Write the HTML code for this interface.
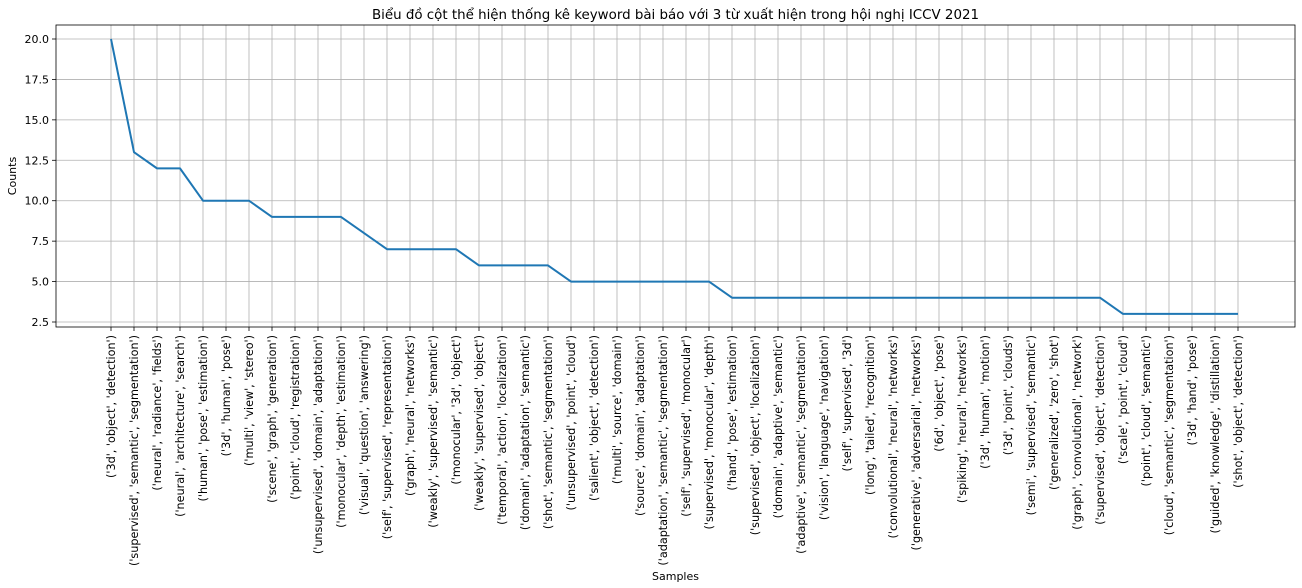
<!DOCTYPE html>
<html><head><meta charset="utf-8"><style>body{margin:0;background:#fff}svg{display:block;font-family:"DejaVu Sans","Liberation Sans",sans-serif}</style></head>
<body>
<svg id="chart" width="1302" height="588" viewBox="0 0 1302 588"></svg>
<script>
const categories=["('3d', 'object', 'detection')","('supervised', 'semantic', 'segmentation')","('neural', 'radiance', 'fields')","('neural', 'architecture', 'search')","('human', 'pose', 'estimation')","('3d', 'human', 'pose')","('multi', 'view', 'stereo')","('scene', 'graph', 'generation')","('point', 'cloud', 'registration')","('unsupervised', 'domain', 'adaptation')","('monocular', 'depth', 'estimation')","('visual', 'question', 'answering')","('self', 'supervised', 'representation')","('graph', 'neural', 'networks')","('weakly', 'supervised', 'semantic')","('monocular', '3d', 'object')","('weakly', 'supervised', 'object')","('temporal', 'action', 'localization')","('domain', 'adaptation', 'semantic')","('shot', 'semantic', 'segmentation')","('unsupervised', 'point', 'cloud')","('salient', 'object', 'detection')","('multi', 'source', 'domain')","('source', 'domain', 'adaptation')","('adaptation', 'semantic', 'segmentation')","('self', 'supervised', 'monocular')","('supervised', 'monocular', 'depth')","('hand', 'pose', 'estimation')","('supervised', 'object', 'localization')","('domain', 'adaptive', 'semantic')","('adaptive', 'semantic', 'segmentation')","('vision', 'language', 'navigation')","('self', 'supervised', '3d')","('long', 'tailed', 'recognition')","('convolutional', 'neural', 'networks')","('generative', 'adversarial', 'networks')","('6d', 'object', 'pose')","('spiking', 'neural', 'networks')","('3d', 'human', 'motion')","('3d', 'point', 'clouds')","('semi', 'supervised', 'semantic')","('generalized', 'zero', 'shot')","('graph', 'convolutional', 'network')","('supervised', 'object', 'detection')","('scale', 'point', 'cloud')","('point', 'cloud', 'semantic')","('cloud', 'semantic', 'segmentation')","('3d', 'hand', 'pose')","('guided', 'knowledge', 'distillation')","('shot', 'object', 'detection')"];
const counts=[20,13,12,12,10,10,10,9,9,9,9,8,7,7,7,7,6,6,6,6,5,5,5,5,5,5,5,4,4,4,4,4,4,4,4,4,4,4,4,4,4,4,4,4,3,3,3,3,3,3];
const yTicks=[2.5,5.0,7.5,10.0,12.5,15.0,17.5,20.0];
const NS="http://www.w3.org/2000/svg";
const svg=document.getElementById('chart');
const L=56,R=1295,T=25,B=327;
const x=i=>111+i*(1238-111)/(categories.length-1);
const y=v=>39+(20-v)*(322-39)/17.5;
function mk(t,a,p){const e=document.createElementNS(NS,t);for(const k in a)e.setAttribute(k,a[k]);(p||svg).appendChild(e);return e;}
const grid=mk('g',{});


categories.forEach((c,i)=>{const l=mk('line',{x1:x(i),x2:x(i),y1:T,y2:B,stroke:'#b0b0b0','stroke-width':0.8},grid);


const tk=mk('line',{x1:x(i),x2:x(i),y1:B,y2:B+4,stroke:'#000','stroke-width':0.8});


const t=mk('text',{x:x(i)+4,y:B+8,'font-size':11.2,'text-anchor':'end',transform:`rotate(-90 ${x(i)+4} ${B+8})`,fill:'#000'});
t.textContent=c;

});
yTicks.forEach(v=>{const l=mk('line',{x1:L,x2:R,y1:y(v),y2:y(v),stroke:'#b0b0b0','stroke-width':0.8},grid);


const tk=mk('line',{x1:L-4,x2:L,y1:y(v),y2:y(v),stroke:'#000','stroke-width':0.8});


const t=mk('text',{x:L-7,y:y(v)+4,'font-size':11,'text-anchor':'end',fill:'#000'});
t.textContent=v.toFixed(1);

});
const line=mk('polyline',{points:counts.map((v,i)=>x(i)+','+y(v)).join(' '),fill:'none',stroke:'#1f77b4','stroke-width':2,'stroke-linejoin':'round'});


const box=mk('rect',{x:L,y:T,width:R-L,height:B-T,fill:'none',stroke:'#000','stroke-width':0.8});


const title=mk('text',{x:(L+R)/2,y:19,'font-size':13.4,'text-anchor':'middle'});
title.textContent='Biểu đồ cột thể hiện thống kê keyword bài báo với 3 từ xuất hiện trong hội nghị ICCV 2021';


const xl=mk('text',{x:(L+R)/2,y:580,'font-size':11,'text-anchor':'middle'});
xl.textContent='Samples';


const yl=mk('text',{x:16,y:176,'font-size':11,'text-anchor':'middle',transform:'rotate(-90 16 176)'});
yl.textContent='Counts';


</script>
</body></html>
